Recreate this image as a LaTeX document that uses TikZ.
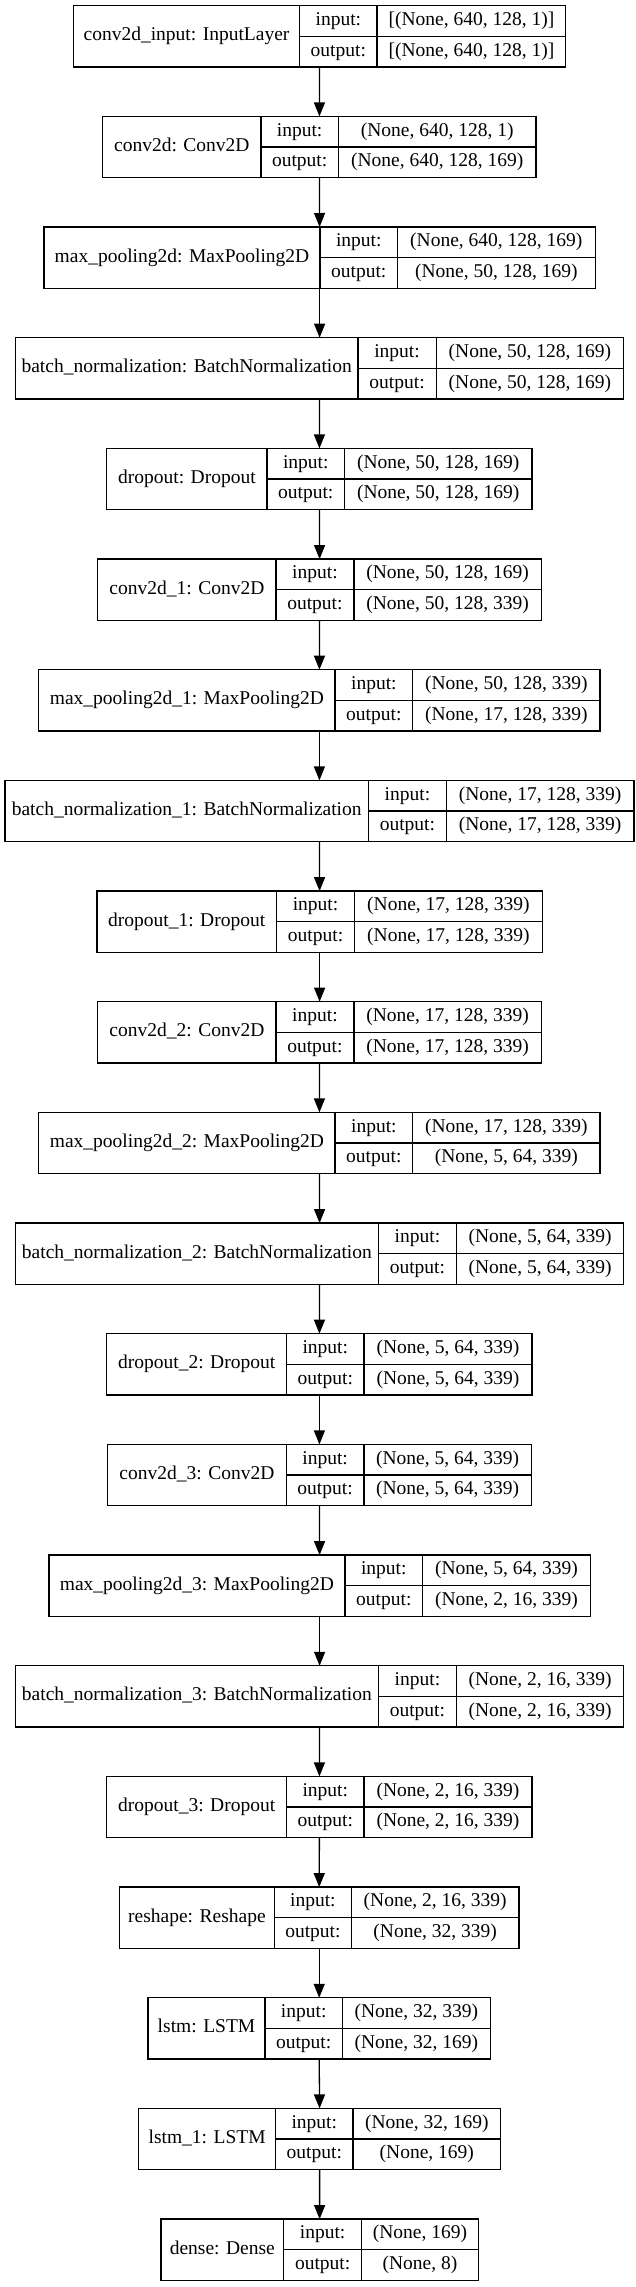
\documentclass[tikz,border=0pt]{standalone}
\usepackage{fontspec}
\setmainfont{Liberation Serif}
\usetikzlibrary{arrows.meta}
\tikzset{
  box/.style={draw=black, line width=1.3pt, inner sep=0pt, outer sep=0pt, minimum height=61.3pt},
  cell/.style={draw=black, line width=1.3pt},
  txt/.style={inner sep=0pt, text height=13pt, text depth=4pt, font=\fontsize{19.5}{22}\selectfont},
  arr/.style={draw=black, line width=1.3pt, -{Triangle[length=14pt,width=11pt]}}
}
\newcommand{\kLayer}[9]{%
  \node[box, anchor=north west, minimum width={(#6-#3)*1pt}] (#1) at (#3,#2) {};
  \draw[cell] (#4,#2) -- (#4,{#2+61.3});
  \draw[cell] (#5,#2) -- (#5,{#2+61.3});
  \draw[cell] (#4,{#2+30.65}) -- (#6,{#2+30.65});
  \node[txt] (#1-name) at ({(#3+#4)/2},{#2+30.65}) {#7};
  \node[txt] (#1-il) at ({(#4+#5)/2},{#2+15.3}) {input:};
  \node[txt] (#1-ol) at ({(#4+#5)/2},{#2+46}) {output:};
  \node[txt] (#1-iv) at ({(#5+#6)/2},{#2+15.3}) {#8};
  \node[txt] (#1-ov) at ({(#5+#6)/2},{#2+46}) {#9};
}
\begin{document}
\begin{tikzpicture}[x=1pt, y=-1pt]
\fill[white] (0,0) rectangle (636,2287);
\useasboundingbox (0,0) rectangle (636,2287);
\kLayer{l1}{5.7}{73.4}{299.6}{377.1}{565.8}{conv2d\_input: InputLayer}{[(None, 640, 128, 1)]}{[(None, 640, 128, 1)]}
\kLayer{l2}{116.4}{102.7}{260.9}{338.4}{536.1}{conv2d: Conv2D}{(None, 640, 128, 1)}{(None, 640, 128, 169)}
\kLayer{l3}{227.0}{44.0}{320.0}{397.5}{595.2}{max\_pooling2d: MaxPooling2D}{(None, 640, 128, 169)}{(None, 50, 128, 169)}
\kLayer{l4}{337.7}{15.5}{357.9}{436.2}{623.7}{batch\_normalization: BatchNormalization}{(None, 50, 128, 169)}{(None, 50, 128, 169)}
\kLayer{l5}{448.4}{106.8}{267.0}{344.5}{532.0}{dropout: Dropout}{(None, 50, 128, 169)}{(None, 50, 128, 169)}
\kLayer{l6}{559.1}{97.8}{276.0}{353.9}{541.4}{conv2d\_1: Conv2D}{(None, 50, 128, 169)}{(None, 50, 128, 339)}
\kLayer{l7}{669.7}{38.7}{335.1}{412.6}{600.1}{max\_pooling2d\_1: MaxPooling2D}{(None, 50, 128, 339)}{(None, 17, 128, 339)}
\kLayer{l8}{780.4}{4.9}{368.5}{446.4}{633.9}{batch\_normalization\_1: BatchNormalization}{(None, 17, 128, 339)}{(None, 17, 128, 339)}
\kLayer{l9}{891.1}{97.0}{276.4}{354.7}{542.2}{dropout\_1: Dropout}{(None, 17, 128, 339)}{(None, 17, 128, 339)}
\kLayer{l10}{1001.7}{97.8}{276.0}{353.9}{541.4}{conv2d\_2: Conv2D}{(None, 17, 128, 339)}{(None, 17, 128, 339)}
\kLayer{l11}{1112.4}{38.7}{335.1}{412.6}{600.1}{max\_pooling2d\_2: MaxPooling2D}{(None, 17, 128, 339)}{(None, 5, 64, 339)}
\kLayer{l12}{1223.1}{15.5}{378.3}{456.6}{623.7}{batch\_normalization\_2: BatchNormalization}{(None, 5, 64, 339)}{(None, 5, 64, 339)}
\kLayer{l13}{1333.7}{106.8}{286.6}{364.0}{532.0}{dropout\_2: Dropout}{(None, 5, 64, 339)}{(None, 5, 64, 339)}
\kLayer{l14}{1444.4}{107.6}{286.2}{364.0}{531.2}{conv2d\_3: Conv2D}{(None, 5, 64, 339)}{(None, 5, 64, 339)}
\kLayer{l15}{1555.1}{48.9}{344.9}{422.7}{590.3}{max\_pooling2d\_3: MaxPooling2D}{(None, 5, 64, 339)}{(None, 2, 16, 339)}
\kLayer{l16}{1665.8}{15.5}{378.3}{456.6}{623.7}{batch\_normalization\_3: BatchNormalization}{(None, 2, 16, 339)}{(None, 2, 16, 339)}
\kLayer{l17}{1776.4}{106.8}{286.6}{364.0}{532.0}{dropout\_3: Dropout}{(None, 2, 16, 339)}{(None, 2, 16, 339)}
\kLayer{l18}{1887.1}{119.4}{274.4}{351.4}{519.0}{reshape: Reshape}{(None, 2, 16, 339)}{(None, 32, 339)}
\kLayer{l19}{1997.8}{148.0}{265.0}{342.4}{490.4}{lstm: LSTM}{(None, 32, 339)}{(None, 32, 169)}
\kLayer{l20}{2108.4}{138.6}{275.6}{353.0}{500.6}{lstm\_1: LSTM}{(None, 32, 169)}{(None, 169)}
\kLayer{l21}{2219.1}{161.0}{283.7}{361.6}{478.2}{dense: Dense}{(None, 169)}{(None, 8)}
\foreach \a/\b in {l1/l2,l2/l3,l3/l4,l4/l5,l5/l6,l6/l7,l7/l8,l8/l9,l9/l10,l10/l11,l11/l12,l12/l13,l13/l14,l14/l15,l15/l16,l16/l17,l17/l18,l18/l19,l19/l20,l20/l21}
  \draw[arr] (\a.south) -- (\b.north);
\end{tikzpicture}
\end{document}
